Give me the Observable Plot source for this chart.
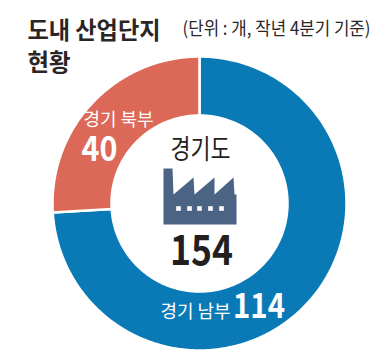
<!DOCTYPE html>
<html><head><meta charset="utf-8">
<script src="https://cdn.jsdelivr.net/npm/d3@7"></script>
<script src="https://cdn.jsdelivr.net/npm/@observablehq/plot@0.6"></script>
<style>html,body{margin:0;padding:0;background:#fff}svg{display:block}</style>
</head><body><div id="chart"></div>
<script>
const regions = ["경기 남부", "경기 북부"];
const counts = [114, 40];
const total = 154;
const centerLabel = "경기도";
const titleLines = ["도내 산업단지", "현황"];
const unitNote = "(단위 : 개, 작년 4분기 기준)";
const colors = ["#0a7ab6", "#dc6858"];

const cx = 199, cy = 203, R = 147, r = 88;
const slices = d3.pie().sort(null)(counts);
const ring = [];
slices.forEach((s, i) => {
  const n = Math.ceil((s.endAngle - s.startAngle) * 60);
  for (let k = 0; k <= n; k++) {
    const a = s.startAngle + (s.endAngle - s.startAngle) * k / n;
    ring.push({region: regions[i], x: cx + R * Math.sin(a), y: cy - R * Math.cos(a)});
  }
  for (let k = n; k >= 0; k--) {
    const a = s.startAngle + (s.endAngle - s.startAngle) * k / n;
    ring.push({region: regions[i], x: cx + r * Math.sin(a), y: cy - r * Math.cos(a)});
  }
  ring.push({region: regions[i], x: cx + R * Math.sin(s.startAngle), y: cy - R * Math.cos(s.startAngle)});
});

const factoryX = [163, 172, 173, 193, 194, 214, 214, 233, 234, 236, 236, 163];
const factoryY = [168, 168, 194, 177, 194, 177, 194, 177, 194, 194, 224, 224];
const factory = factoryX.map((x, i) => ({x, y: factoryY[i]}));
const windowX = [178, 189, 199, 210, 221];
const windows = windowX.map(x => ({x, y: 208}));

const font = "'Noto Sans CJK KR','Noto Sans',sans-serif";
const fitted = new Map();
const label = (text, x, y, fontSize, fill, fontWeight, textAnchor = "middle", length = null) => {
  if (length) fitted.set(text, length);
  return Plot.text([text], {x: () => x, y: () => y, text: d => d, fontSize, fill, fontWeight, textAnchor, fontFamily: font, lineAnchor: "middle"});
};

const chart = Plot.plot({
  width: 391, height: 357,
  margin: 0,
  x: {domain: [0, 391], range: [0, 391], axis: null},
  y: {domain: [0, 357], range: [0, 357], axis: null},
  color: {domain: regions, range: colors},
  style: {background: "#fff"},
  marks: [
    Plot.line(ring, {x: "x", y: "y", z: "region", fill: "region", stroke: "#fff", strokeWidth: 2.5, curve: "linear"}),
    Plot.line(factory, {x: "x", y: "y", fill: "#4c6484", stroke: "none", curve: "linear"}),
    Plot.dot(windows, {x: "x", y: "y", symbol: "square", r: 2.6, fill: "#fff"}),
    label(titleLines[0], 27, 31, 24, "#2b2526", 700, "start", 133),
    label(titleLines[1], 27, 63, 24, "#2b2526", 700, "start", 43),
    label(unitNote, 182, 29, 18, "#2b2526", 400, "start", 188),
    label(centerLabel, 200, 150, 27, "#231f20", 400, "middle", 60),
    label(String(total), 201, 251, 42, "#231f20", 700, "middle", 63),
    label(regions[1], 118, 120, 18, "#fff", 400, "middle", 70),
    label(String(counts[1]), 99, 149, 35, "#fff", 700, "middle", 36),
    label(regions[0], 195, 312, 18, "#fff", 400, "middle", 70),
    label(String(counts[0]), 258.5, 307, 34, "#fff", 700, "middle", 52)
  ]
});
d3.select(chart).selectAll("text").each(function () {
  const len = fitted.get(this.textContent);
  if (len) { this.setAttribute("textLength", len); this.setAttribute("lengthAdjust", "spacingAndGlyphs"); }
});
document.getElementById("chart").append(chart);
</script></body></html>
